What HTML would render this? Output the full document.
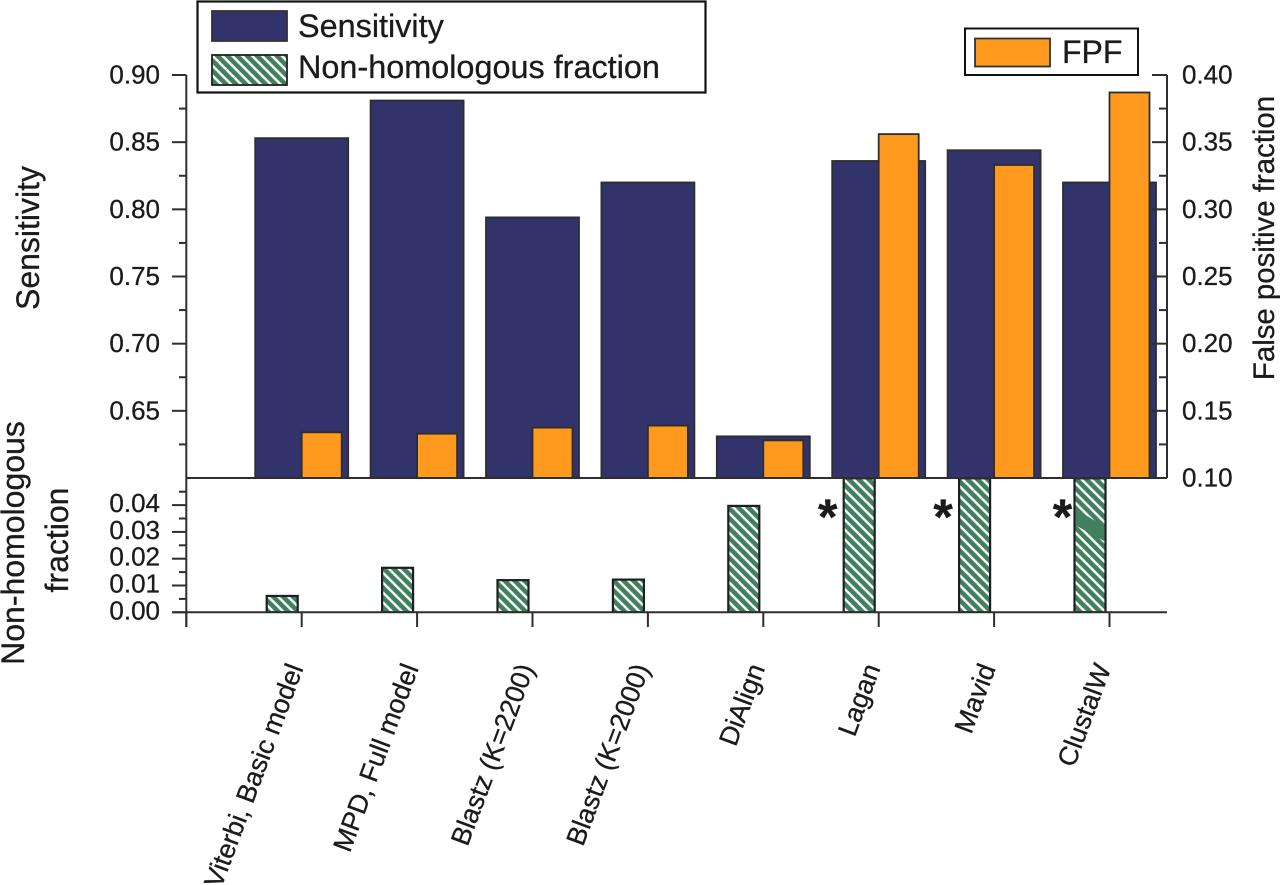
<!DOCTYPE html>
<html lang="en">
<head>
<meta charset="utf-8">
<title>Sensitivity, false positive fraction and non-homologous fraction</title>
<style>
html,body{margin:0;padding:0;background:#fff;width:1280px;height:885px;overflow:hidden}
svg{display:block}
text{font-family:"Liberation Sans",Arial,sans-serif;fill:#1d1a1b;stroke:#1d1a1b;stroke-width:.3px}
</style>
</head>
<body>
<svg id="chart" xmlns="http://www.w3.org/2000/svg" width="1280" height="885" viewBox="0 0 1280 885">
<defs>
<pattern id="hatch" patternUnits="userSpaceOnUse" width="7" height="7" patternTransform="rotate(45)">
<rect width="7" height="7" fill="#41805f"/>
<rect x="0" y="0" width="7" height="2.400" fill="#fff"/>
</pattern>
<clipPath id="lower-clip"><rect x="186" y="478" width="981" height="134"/></clipPath>
</defs>
<g id="bars-upper"></g>
<g id="bars-lower" clip-path="url(#lower-clip)"></g>
<g id="axes"></g>

<g>
<rect x="197.500" y="1.500" width="508" height="91" fill="#fff" stroke="#111" stroke-width="2.200"/>
<rect x="212" y="11" width="75" height="30" fill="#33336b" stroke="#333" stroke-width="1.800"/>
<text x="298" y="37" font-size="32.400">Sensitivity</text>
<rect x="212" y="55" width="75" height="30" fill="url(#hatch)" stroke="#222" stroke-width="1.800"/>
<text x="298" y="78" font-size="32.400">Non-homologous fraction</text>
</g>
<g>
<rect x="965" y="28.500" width="173" height="46.500" fill="#fff" stroke="#111" stroke-width="2"/>
<rect x="975" y="38.500" width="75" height="28" fill="#ff9a1e" stroke="#333" stroke-width="1.800"/>
<text x="1062" y="63" font-size="32">FPF</text>
</g>

<text transform="translate(39 238) rotate(-90)" text-anchor="middle" font-size="32">Sensitivity</text>
<text transform="translate(24 543) rotate(-90)" text-anchor="middle" font-size="32">Non-homologous</text>
<text transform="translate(68 540) rotate(-90)" text-anchor="middle" font-size="32">fraction</text>
<text transform="translate(1274 238) rotate(-90)" text-anchor="middle" font-size="29.400">False positive fraction</text>
</svg>
<script>
const categories = ["Viterbi, Basic model", "MPD, Full model", "Blastz (K=2200)", "Blastz (K=2000)", "DiAlign", "Lagan", "Mavid", "ClustalW"];
const sensitivityValues = [0.853, 0.881, 0.794, 0.820, 0.631, 0.836, 0.844, 0.820];
const fpfValues = [0.134, 0.133, 0.1375, 0.139, 0.128, 0.356, 0.333, 0.387];
const nonHomologousValues = [0.0061, 0.0166, 0.012, 0.0122, 0.0397, 0.05, 0.05, 0.05];
const offScaleFlags = [false, false, false, false, false, true, true, true];
const sensitivityTicks = ["0.90", "0.85", "0.80", "0.75", "0.70", "0.65"];
const sensitivityMinorTicks = [0.875, 0.825, 0.775, 0.725, 0.675, 0.625];
const fpfTicks = ["0.40", "0.35", "0.30", "0.25", "0.20", "0.15", "0.10"];
const fpfMinorTicks = [0.375, 0.325, 0.275, 0.225, 0.175, 0.125];
const nonHomologousTicks = ["0.04", "0.03", "0.02", "0.01", "0.00"];
const nonHomologousMinorTicks = [0.045, 0.035, 0.025, 0.015, 0.005];
const clustalBandLeft = [0.0385, 0.0325];
const clustalBandRight = [0.0320, 0.0265];

const NS = "http://www.w3.org/2000/svg";
const INK = "#2e2e2e";
const xAxis = i => 186.3 + 115.4 * (i + 1);
const ySens = v => 478 - (v - 0.6) * 1343.3;
const yFpf = v => 478 - (v - 0.1) * 1343.3;
const yNon = v => 612.3 - v * 2680;

function make(tag, attrs, parent) {
  const node = document.createElementNS(NS, tag);
  for (const k in attrs) node.setAttribute(k, attrs[k]);
  parent.appendChild(node);
  return node;
}
const upper = document.getElementById("bars-upper");
const lower = document.getElementById("bars-lower");
const axes = document.getElementById("axes");

sensitivityValues.forEach((v, i) => {
  const top = ySens(v);
  const r = make("rect", {x: xAxis(i) - 46.5, y: top, width: 93, height: 478 - top, fill: "#33336b", stroke: INK, "stroke-width": 1.8}, upper);
  
  
});
fpfValues.forEach((v, i) => {
  const top = yFpf(v);
  const r = make("rect", {x: xAxis(i), y: top, width: 40, height: 478 - top, fill: "#ff9a1e", stroke: INK, "stroke-width": 1.8}, upper);
  
  
});
nonHomologousValues.forEach((v, i) => {
  const top = yNon(v);
  const r = make("rect", {x: xAxis(i) - 35, y: top, width: 31, height: 612.3 - top, fill: "url(#hatch)", stroke: "#1f1f1f", "stroke-width": 2.2}, lower);
  
  
});
const bandX1 = xAxis(7) - 34;
const bandX2 = xAxis(7) - 5;
const band = make("polygon", {points: [
  bandX1 + "," + yNon(clustalBandLeft[0]),
  bandX2 + "," + yNon(clustalBandRight[0]),
  bandX2 + "," + yNon(clustalBandRight[1]),
  bandX1 + "," + yNon(clustalBandLeft[1])
].join(" "), fill: "#41805f"}, lower);



function line(x1, y1, x2, y2, parent) {
  return make("line", {x1, y1, x2, y2, stroke: INK, "stroke-width": 2}, parent);
}
const axisLeft = line(186.3, 75, 186.3, 627, axes);


const axisRight = line(1167, 75, 1167, 478, axes);


const panelDivider = line(186.3, 478, 1167, 478, axes);


const zeroLine = line(172, 612.3, 1167, 612.3, axes);



function label(txt, x, y, anchor, parent) {
  const t = make("text", {x, y, "text-anchor": anchor, "font-size": 26}, parent);
  t.textContent = txt;
  return t;
}
sensitivityTicks.forEach(s => {
  const y = ySens(parseFloat(s));
  const m = line(172, y, 186.3, y, axes);
  
  
  const t = label(s, 160, y + 8.5, "end", axes);
  
  
});
sensitivityMinorTicks.forEach(v => {
  const m = line(179, ySens(v), 186.3, ySens(v), axes);
  
  
});
fpfTicks.forEach(s => {
  const y = yFpf(parseFloat(s));
  const m = line(1152, y, 1167, y, axes);
  
  
  const t = label(s, 1182, y + 8.5, "start", axes);
  
  
});
fpfMinorTicks.forEach(v => {
  const m = line(1159, yFpf(v), 1167, yFpf(v), axes);
  
  
});
nonHomologousTicks.forEach(s => {
  const y = yNon(parseFloat(s));
  const m = line(172, y, 186.3, y, axes);
  
  
  const t = label(s, 160, y + 7, "end", axes);
  
  
});
nonHomologousMinorTicks.forEach(v => {
  const m = line(179, yNon(v), 186.3, yNon(v), axes);
  
  
});
categories.forEach((c, i) => {
  const x = xAxis(i);
  const m = line(x, 612.3, x, 627, axes);
  
  
  const t = make("text", {transform: "translate(" + (x + 2) + " 668) rotate(-69.5)", "text-anchor": "end", "font-size": 26.8}, axes);
  t.textContent = c;
  
  
  if (offScaleFlags[i]) {
    const a = make("text", {x: x - (i === 7 ? 47 : 51), y: 534, "text-anchor": "middle", "font-size": 50, "font-weight": "bold"}, axes);
    a.textContent = "*";
    
    
  }
});
const startTick = line(186.3, 612.3, 186.3, 627, axes);


</script>
</body>
</html>
